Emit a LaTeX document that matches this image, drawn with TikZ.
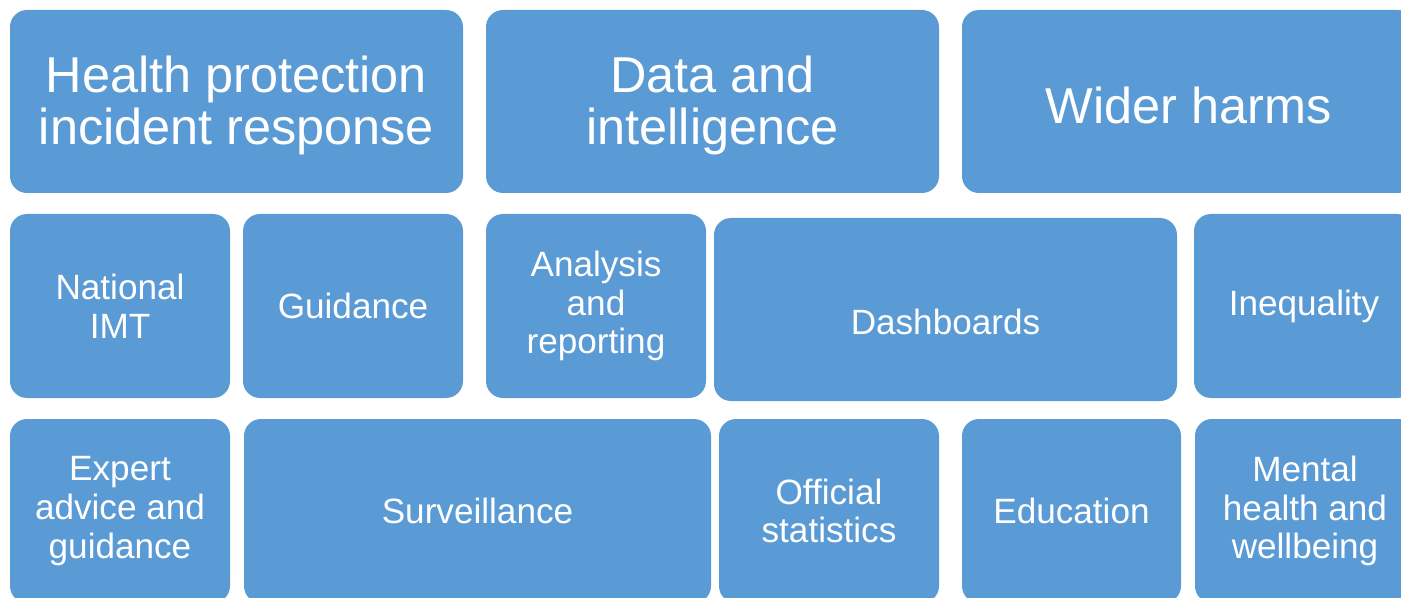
\documentclass[tikz,border=0pt]{standalone}
\usepackage{fontspec}
\setmainfont{Liberation Sans}
\usetikzlibrary{positioning, calc}

\definecolor{tileblue}{HTML}{5B9BD5}

\tikzset{
    tile/.style={fill=tileblue, draw=none, rounded corners=0.34cm},
    bigtext/.style={text=white, align=center, yshift=-0.08cm, font=\fontsize{28.7}{29.5}\selectfont},
    smalltext/.style={text=white, align=center, font=\fontsize{20}{22}\selectfont},
}

\begin{document}
\begin{tikzpicture}[x=0.02cm, y=-0.02cm]
                \useasboundingbox (0,0) rectangle (1401,598);
                % top row
                \draw[tile] (10,10)   rectangle (463,193)  node[midway, bigtext] (health) {Health protection\\incident response};
                \draw[tile] (486,10)  rectangle (939,193)  node[midway, bigtext] (data) {Data and\\intelligence};
                \draw[tile] (962,10)  rectangle (1415,193) node[midway, bigtext] (wider) {Wider harms};
                % middle row
                \draw[tile] (10,214)  rectangle (230,398)  node[midway, smalltext] (imt) {National\\IMT};
                \draw[tile] (243,214) rectangle (463,398)  node[midway, smalltext] (guidance) {Guidance};
                \draw[tile] (486,214) rectangle (706,398)  node[midway, smalltext] (analysis) {Analysis\\and\\reporting};
                \draw[tile] (714,218) rectangle (1177,401) node[midway, smalltext, yshift=-0.24cm] (dashboards) {Dashboards};
                \draw[tile] (1194,214) rectangle (1414,398) node[midway, smalltext] (inequality) {Inequality};
                % bottom row
                \draw[tile] (10,419)  rectangle (230,603)  node[midway, smalltext] (expert) {Expert\\advice and\\guidance};
                \draw[tile] (244,419) rectangle (711,603)  node[midway, smalltext] (surveillance) {Surveillance};
                \draw[tile] (719,419) rectangle (939,603)  node[midway, smalltext] (official) {Official\\statistics};
                \draw[tile] (962,419) rectangle (1181,603) node[midway, smalltext] (education) {Education};
                \draw[tile] (1195,419) rectangle (1415,603) node[midway, smalltext] (mental) {Mental\\health and\\wellbeing};
            \end{tikzpicture}
\end{document}
